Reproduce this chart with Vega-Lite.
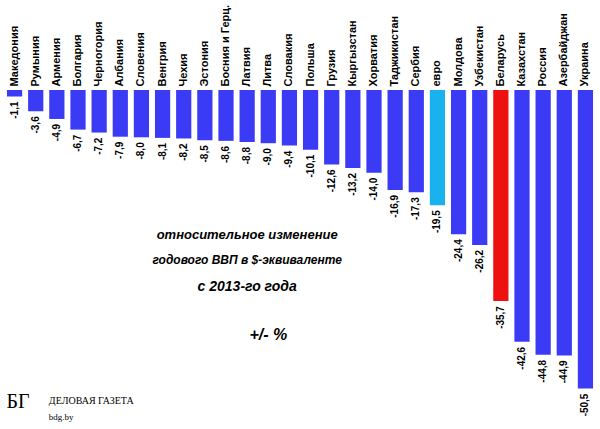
{
  "$schema": "https://vega.github.io/schema/vega-lite/v6.json",
  "width": 600,
  "height": 429,
  "autosize": {"type": "fit", "contains": "padding"},
  "padding": {"left": 4, "right": 4, "top": 4, "bottom": 2},
  "background": "white",
  "config": {
    "locale": {"number": {"decimal": ",", "thousands": " ", "grouping": [3], "currency": ["", ""], "minus": "-"}},
    "view": {"stroke": null},
    "font": "Arial"
  },
  "datasets": {
    "gdp": [
      {"country": "Македония", "value": -1.1, "kind": "c"},
      {"country": "Румыния", "value": -3.6, "kind": "c"},
      {"country": "Армения", "value": -4.9, "kind": "c"},
      {"country": "Болгария", "value": -6.7, "kind": "c"},
      {"country": "Черногория", "value": -7.2, "kind": "c"},
      {"country": "Албания", "value": -7.9, "kind": "c"},
      {"country": "Словения", "value": -8.0, "kind": "c"},
      {"country": "Венгрия", "value": -8.1, "kind": "c"},
      {"country": "Чехия", "value": -8.2, "kind": "c"},
      {"country": "Эстония", "value": -8.5, "kind": "c"},
      {"country": "Босния и Герц.", "value": -8.6, "kind": "c"},
      {"country": "Латвия", "value": -8.8, "kind": "c"},
      {"country": "Литва", "value": -9.0, "kind": "c"},
      {"country": "Словакия", "value": -9.4, "kind": "c"},
      {"country": "Польша", "value": -10.1, "kind": "c"},
      {"country": "Грузия", "value": -12.6, "kind": "c"},
      {"country": "Кыргызстан", "value": -13.2, "kind": "c"},
      {"country": "Хорватия", "value": -14.0, "kind": "c"},
      {"country": "Таджикистан", "value": -16.9, "kind": "c"},
      {"country": "Сербия", "value": -17.3, "kind": "c"},
      {"country": "евро", "value": -19.5, "kind": "e"},
      {"country": "Молдова", "value": -24.4, "kind": "c"},
      {"country": "Узбекистан", "value": -26.2, "kind": "c"},
      {"country": "Беларусь", "value": -35.7, "kind": "b"},
      {"country": "Казахстан", "value": -42.6, "kind": "c"},
      {"country": "Россия", "value": -44.8, "kind": "c"},
      {"country": "Азербайджан", "value": -44.9, "kind": "c"},
      {"country": "Украина", "value": -50.5, "kind": "c"}
    ],
    "notes": [
      {"country": "Латвия", "y": -24.5, "text": "относительное изменение", "size": 13},
      {"country": "Латвия", "y": -28.7, "text": "годового  ВВП в $-эквиваленте", "size": 12},
      {"country": "Латвия", "y": -33.3, "text": "с 2013-го года", "size": 14},
      {"country": "Литва", "y": -41.5, "text": "+/- %", "size": 16}
    ],
    "logo": [
      {"country": "Македония", "y": -52.8, "text": "БГ", "size": 20, "weight": "bold"},
      {"country": "Армения", "y": -52.6, "text": "ДЕЛОВАЯ ГАЗЕТА", "size": 10, "weight": "bold"},
      {"country": "Армения", "y": -55.3, "text": "bdg.by", "size": 9, "weight": "normal"}
    ]
  },
  "layer": [
    {
      "data": {"name": "gdp"},
      "mark": {"type": "bar", "width": {"band": 0.8}},
      "encoding": {
        "x": {
          "field": "country", "type": "nominal", "sort": null,
          "axis": {"orient": "top", "title": null, "labelAngle": -90, "labelFontWeight": "bold", "labelFontSize": 11, "labelColor": "black", "ticks": false, "domain": false, "labelPadding": 4}
        },
        "y": {"field": "value", "type": "quantitative", "scale": {"domain": [-57, 0], "nice": false}, "axis": null},
        "color": {
          "field": "kind", "type": "nominal", "legend": null,
          "scale": {"domain": ["c", "e", "b"], "range": ["#3b3bf5", "#19b2ee", "#ee1111"]}
        }
      }
    },
    {
      "data": {"name": "gdp"},
      "mark": {"type": "text", "angle": -90, "align": "right", "baseline": "middle", "dx": -5, "fontWeight": "bold", "fontSize": 10, "color": "black"},
      "encoding": {
        "x": {"field": "country", "type": "nominal", "sort": null},
        "y": {"field": "value", "type": "quantitative"},
        "text": {"field": "value", "type": "quantitative", "format": ".1f"}
      }
    },
    {
      "data": {"name": "notes"},
      "mark": {"type": "text", "fontStyle": "italic", "fontWeight": "bold", "color": "black", "align": "center"},
      "encoding": {
        "x": {"field": "country", "type": "nominal", "sort": null},
        "y": {"field": "y", "type": "quantitative"},
        "text": {"field": "text"},
        "size": {"field": "size", "type": "quantitative", "scale": null}
      }
    },
    {
      "data": {"name": "logo"},
      "mark": {"type": "text", "font": "Liberation Serif", "color": "black", "align": "left", "dx": -8},
      "encoding": {
        "x": {"field": "country", "type": "nominal", "sort": null},
        "y": {"field": "y", "type": "quantitative"},
        "text": {"field": "text"},
        "size": {"field": "size", "type": "quantitative", "scale": null},
        "fontWeight": {"field": "weight", "type": "nominal", "scale": null}
      }
    }
  ]
}
